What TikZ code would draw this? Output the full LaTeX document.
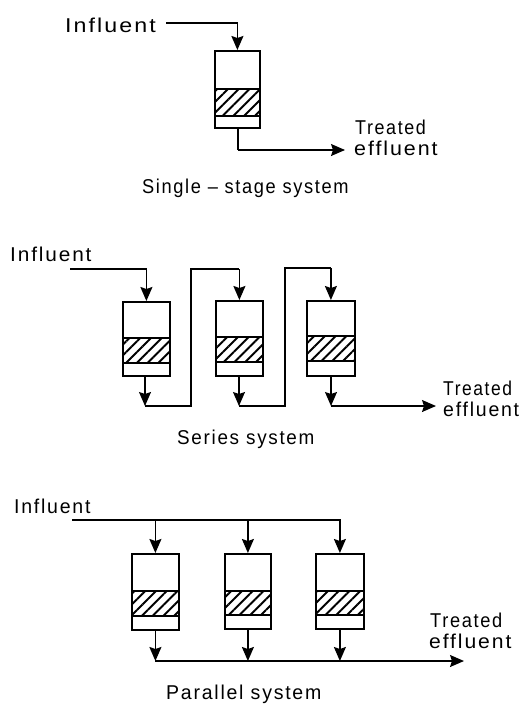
\documentclass[tikz,border=0pt]{standalone}
\usepackage{fontspec}
\usepackage{graphicx}
\setmainfont[LetterSpace=9]{Liberation Sans}
\usetikzlibrary{arrows.meta,patterns.meta,calc}
\tikzset{
  tank/.style={draw=black,line width=1.8pt,fill=white,inner sep=0pt,minimum width=#1,anchor=north west},
  bed/.style={draw=black,line width=1.8pt,inner sep=0pt,minimum width=#1,anchor=north west,
    pattern={Lines[angle=45,distance=7.6pt,line width=1.9pt]}},
  pipe/.style={draw=black,line width=1.4pt,line join=miter},
  flow/.style={pipe,-{Stealth[length=14pt,width=12pt,inset=2pt]}},
  lab/.style={anchor=west,inner sep=0pt,text=black,font=\fontsize{16}{18}\selectfont},
}
\newcommand{\stw}[2]{\scalebox{#1}[1.25]{#2}}
% name, left, top, right, bottom, bed top, bed bottom
\newcommand{\tankunit}[7]{%
  \pgfmathsetmacro{\tw}{#4-#2}\pgfmathsetmacro{\th}{#5-#3}\pgfmathsetmacro{\bh}{#7-#6}%
  \node[tank=\tw pt,minimum height=\th pt] (#1) at (#2,#3) {};
  \node[bed=\tw pt,minimum height=\bh pt] (#1bed) at (#2,#6) {};
}
\begin{document}
\begin{tikzpicture}[x=1pt,y=-1pt]
\useasboundingbox (0,0) rectangle (520,704);
% single-stage
\tankunit{a}{214}{50}{259}{127}{88}{115}
\node[lab] (ai) at (65,25) {\stw{1.45}{Influent}};
\node[lab] (at) at (355,127) {\stw{1.12}{Treated}};
\node[lab] (ae) at (354,148) {\stw{1.34}{effluent}};
\node[lab] (ac) at (142,188) {\stw{1.14}{Single – stage system}};
\coordinate (ap) at (166,23);
\coordinate (aq) at (345,150);
\coordinate (ar) at (238,150);
\draw[flow] (ap) -| (a.north);
\draw[pipe] (ar |- a.south) -- (ar);
\draw[flow] (ar) -- (aq);
% series
\tankunit{b}{122}{301}{169}{375}{337}{362}
\tankunit{c}{215}{300}{262}{375}{336}{361}
\tankunit{d}{306}{300}{354}{375}{335}{360}
\node[lab] (bi) at (10,254) {\stw{1.30}{Influent}};
\node[lab] (bt) at (443,388) {\stw{1.09}{Treated}};
\node[lab] (be) at (443,409) {\stw{1.22}{effluent}};
\node[lab] (bc) at (177,439) {\stw{1.18}{Series system}};
\coordinate (bp) at (70,269);
\coordinate (bq) at (436,406);
\coordinate (b1) at (145,406);
\coordinate (c1) at (239,406);
\coordinate (d1) at (331,406);
\draw[flow] (bp) -| (b.north);
\draw[flow] (b1 |- b.south) -- (b1);
\draw[pipe] (b1) -- (191,406) -- (191,269) -- (c.north |- 0,269);
\draw[flow] (c.north |- 0,269) -- (c.north);
\draw[flow] (c1 |- c.south) -- (c1);
\draw[pipe] (c1) -- (285,406) -- (285,268) -- (d.north |- 0,268);
\draw[flow] (d.north |- 0,268) -- (d.north);
\draw[flow] (d1 |- d.south) -- (d1);
\draw[flow] (d1) -- (bq);
% parallel
\tankunit{e}{131}{553}{178}{629}{590}{615}
\tankunit{f}{224}{553}{270}{628}{590}{614}
\tankunit{g}{315}{553}{363}{628}{590}{614}
\node[lab] (ei) at (14,506) {\stw{1.22}{Influent}};
\node[lab] (et) at (430,620) {\stw{1.14}{Treated}};
\node[lab] (ee) at (429,641) {\stw{1.32}{effluent}};
\node[lab] (ec) at (166,694) {\stw{1.22}{Parallel system}};
\coordinate (ep) at (72,520);
\coordinate (eq) at (464,661);
\draw[flow] (ep) -| (g.north);
\draw[flow] (e.north |- ep) -- (e.north);
\draw[flow] (f.north |- ep) -- (f.north);
\draw[flow] (e.south) -- (e.south |- eq);
\draw[flow] (f.south) -- (f.south |- eq);
\draw[flow] (g.south) -- (g.south |- eq);
\draw[flow] (e.south |- eq) -- (eq);
\end{tikzpicture}
\end{document}
